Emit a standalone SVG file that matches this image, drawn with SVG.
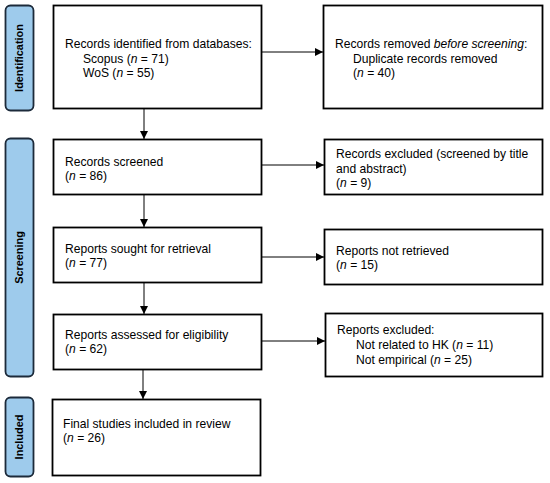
<svg xmlns="http://www.w3.org/2000/svg" width="550" height="483" viewBox="0 0 550 483">
<defs>
<style>
.box{fill:#fff;stroke:#000;stroke-width:1.8}
.lab{fill:#9ecbec;stroke:#1c2a3a;stroke-width:1.8}
.t{font-family:"Liberation Sans",Arial,sans-serif;font-size:12.1px;fill:#000}
.lt{font-family:"Liberation Sans",Arial,sans-serif;font-size:10.9px;font-weight:bold;fill:#000}
.c{stroke:#000;stroke-width:1;fill:none;marker-end:url(#ah)}
</style>
<marker id="ah" viewBox="0 0 10 10" refX="10" refY="5" markerWidth="8" markerHeight="8" markerUnits="userSpaceOnUse" orient="auto">
<path d="M0,0 L10,5 L0,10 z" fill="#000"/>
</marker>
</defs>
<rect width="550" height="483" fill="#fff"/>
<g id="label-identification">
<rect class="lab" x="5.5" y="5.5" width="28" height="105" rx="5"/>
<text class="lt" transform="translate(23,58) rotate(-90)" text-anchor="middle">Identification</text>
</g>
<g id="label-screening">
<rect class="lab" x="5.5" y="138.5" width="28" height="238" rx="5"/>
<text class="lt" transform="translate(23,257.5) rotate(-90)" text-anchor="middle">Screening</text>
</g>
<g id="label-included">
<rect class="lab" x="5.5" y="397.5" width="28" height="79" rx="5"/>
<text class="lt" transform="translate(23,437) rotate(-90)" text-anchor="middle">Included</text>
</g>
<g id="connectors">
<line class="c" x1="262" y1="52" x2="323" y2="52"/>
<line class="c" x1="144" y1="109" x2="144" y2="139"/>
<line class="c" x1="262" y1="165" x2="324" y2="165"/>
<line class="c" x1="144" y1="195" x2="144" y2="227"/>
<line class="c" x1="262" y1="257" x2="324" y2="257"/>
<line class="c" x1="144" y1="283" x2="144" y2="314"/>
<line class="c" x1="262" y1="341" x2="325" y2="341"/>
<line class="c" x1="143" y1="370" x2="143" y2="399"/>
</g>
<g id="n-identified">
<rect class="box" x="53.5" y="5.5" width="208" height="103"/>
<text class="t" x="65" y="48">Records identified from databases:</text>
<text class="t" x="83" y="62.5">Scopus (<tspan font-style="italic">n</tspan> = 71)</text>
<text class="t" x="83" y="77">WoS (<tspan font-style="italic">n</tspan> = 55)</text>
</g>
<g id="n-removed">
<rect class="box" x="323.5" y="5.5" width="219" height="103"/>
<text class="t" x="335" y="48">Records removed <tspan font-style="italic">before screening</tspan>:</text>
<text class="t" x="353" y="62.5">Duplicate records removed</text>
<text class="t" x="353" y="77">(<tspan font-style="italic">n</tspan> = 40)</text>
</g>
<g id="n-screened">
<rect class="box" x="53.5" y="139.5" width="208" height="55"/>
<text class="t" x="65" y="166">Records screened</text>
<text class="t" x="65" y="180">(<tspan font-style="italic">n</tspan> = 86)</text>
</g>
<g id="n-excluded">
<rect class="box" x="324.5" y="139.5" width="218" height="55"/>
<text class="t" x="336" y="158">Records excluded (screened by title</text>
<text class="t" x="336" y="172.5">and abstract)</text>
<text class="t" x="336" y="187">(<tspan font-style="italic">n</tspan> = 9)</text>
</g>
<g id="n-sought">
<rect class="box" x="53.5" y="227.5" width="208" height="55"/>
<text class="t" x="65" y="253">Reports sought for retrieval</text>
<text class="t" x="65" y="267">(<tspan font-style="italic">n</tspan> = 77)</text>
</g>
<g id="n-notretrieved">
<rect class="box" x="324.5" y="229.5" width="218" height="55"/>
<text class="t" x="336" y="255">Reports not retrieved</text>
<text class="t" x="336" y="269">(<tspan font-style="italic">n</tspan> = 15)</text>
</g>
<g id="n-assessed">
<rect class="box" x="53.5" y="314.5" width="208" height="55"/>
<text class="t" x="65" y="339">Reports assessed for eligibility</text>
<text class="t" x="65" y="353">(<tspan font-style="italic">n</tspan> = 62)</text>
</g>
<g id="n-reportsexcluded">
<rect class="box" x="325.5" y="313.5" width="217" height="63"/>
<text class="t" x="337" y="334">Reports excluded:</text>
<text class="t" x="356" y="349">Not related to HK (<tspan font-style="italic">n</tspan> = 11)</text>
<text class="t" x="356" y="364">Not empirical (<tspan font-style="italic">n</tspan> = 25)</text>
</g>
<g id="n-included">
<rect class="box" x="52.5" y="399.5" width="208" height="76"/>
<text class="t" x="63" y="428">Final studies included in review</text>
<text class="t" x="63" y="442">(<tspan font-style="italic">n</tspan> = 26)</text>
</g>
</svg>
